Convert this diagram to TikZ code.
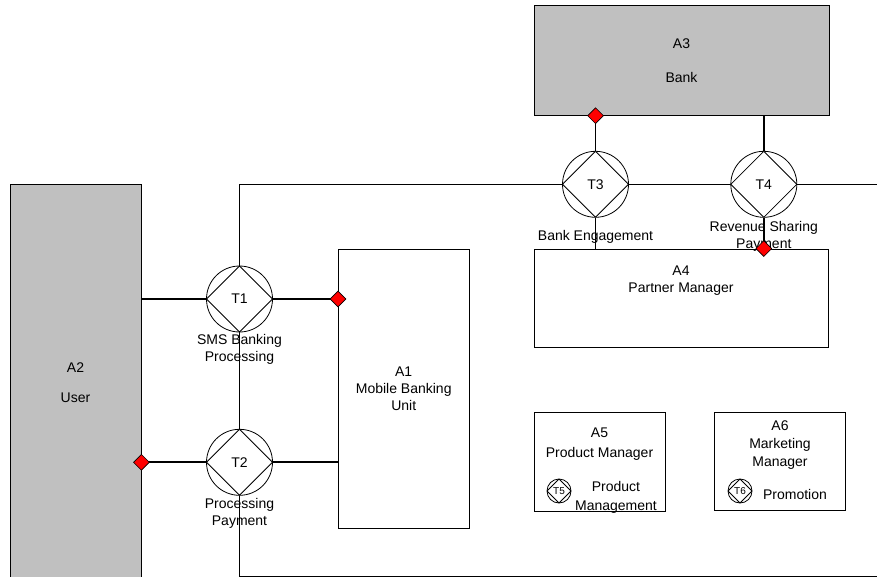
\documentclass[tikz,border=0pt]{standalone}
\usepackage{fontspec}
\setmainfont{Liberation Sans}
\usetikzlibrary{shapes.geometric}
\definecolor{actorgray}{RGB}{192,192,192}
\definecolor{jointred}{RGB}{255,0,0}

\begin{document}
\begin{tikzpicture}[x=1pt, y=-1pt,
    font=\fontsize{14}{17}\selectfont,
    actor/.style={draw, fill=actorgray, inner sep=0pt, align=center, line width=0.8pt},
    unit/.style={draw, fill=white, inner sep=0pt, align=center, line width=0.8pt},
    trans/.style={circle, draw, fill=white, minimum size=66pt, inner sep=0pt, line width=0.8pt,
      path picture={\draw[line width=0.8pt] (path picture bounding box.north) -- (path picture bounding box.east)
        -- (path picture bounding box.south) -- (path picture bounding box.west) -- cycle;}},
    smalltrans/.style={trans, minimum size=24pt, font=\fontsize{10}{12}\selectfont},
    lbl/.style={align=center, inner sep=2pt},
    link/.style={line width=1.8pt},
    boundary/.style={line width=0.8pt},
    joint/.style={diamond, draw, fill=jointred, inner sep=0pt, minimum width=16pt, minimum height=16pt, line width=0.6pt},
  ]
    \useasboundingbox (0,0) rectangle (877,577);

    % system boundary
    \draw[boundary] (877,184.3) -| (239.5,576) -- (877,576);

    % actors and units
    \node[actor, minimum width=131pt, minimum height=398pt] (a2) at (75.5,383) {A2\\[13pt]User};
    \node[actor, minimum width=295pt, minimum height=110pt] (a3) at (681.5,60.3) {A3\\[17pt]Bank};
    \node[unit, minimum width=130.7pt, minimum height=279.7pt] (a1) at (403.7,388.8) {A1\\Mobile Banking\\Unit};
    \node[unit, minimum width=294pt, minimum height=98pt] (a4) at (681,298) {};
    \node[lbl, anchor=north] (a4t) at ([yshift=-15pt]a4.north) {A4\\Partner Manager};
    \node[unit, minimum width=131pt, minimum height=98.3pt] (a5) at (599.5,461.8) {};
    \node[lbl, anchor=north] (a5t) at ([yshift=-13pt]a5.north) {A5\\[3pt]Product Manager};
    \node[unit, minimum width=131.4pt, minimum height=97.3pt] (a6) at (780,461.3) {};
    \node[lbl, anchor=north] (a6t) at ([yshift=-6pt]a6.north) {A6\\[1pt]Marketing\\[1pt]Manager};

    % transactions
    \node[trans] (t1) at (239.5,299) {T1};
    \node[trans] (t2) at (239.5,462.3) {T2};
    \node[trans] (t3) at (595.5,184.3) {T3};
    \node[trans] (t4) at (763.8,184.3) {T4};
    \node[smalltrans] (t5) at (559,491) {T5};
    \node[smalltrans] (t6) at (740,491) {T6};

    \node[lbl, anchor=north] (t1l) at (t1.south) {SMS Banking\\Processing};
    \node[lbl, anchor=north] (t2l) at (t2.south) {Processing\\Payment};
    \node[lbl, anchor=north] (t3l) at ([yshift=-10pt]t3.south) {Bank Engagement};
    \node[lbl, anchor=north] (t4l) at ([yshift=-1pt]t4.south) {Revenue Sharing\\Payment};
    \node[lbl] (t5l) at (616,497) {Product\\[2pt]Management};
    \node[lbl] (t6l) at (795,494) {Promotion};

    % connectors
    \draw[link] (a2.east |- t1.west) -- (t1.west);
    \draw[link] (t1.east) -- (a1.west |- t1.east);
    \draw[link] (a2.east |- t2.west) -- (t2.west);
    \draw[link] (t2.east) -- (a1.west |- t2.east);
    \draw[link] (a3.south -| t3.north) -- (t3.north);
    \draw[link] (t3.south) -- (a4.north -| t3.south);
    \draw[link] (a3.south -| t4.north) -- (t4.north);
    \draw[link] (t4.south) -- (a4.north -| t4.south);

    \node[joint] (j1) at (a1.west |- t1.east) {};
    \node[joint] (j2) at (a2.east |- t2.west) {};
    \node[joint] (j3) at (a3.south -| t3.north) {};
    \node[joint] (j4) at (a4.north -| t4.south) {};
  \end{tikzpicture}
\end{document}
